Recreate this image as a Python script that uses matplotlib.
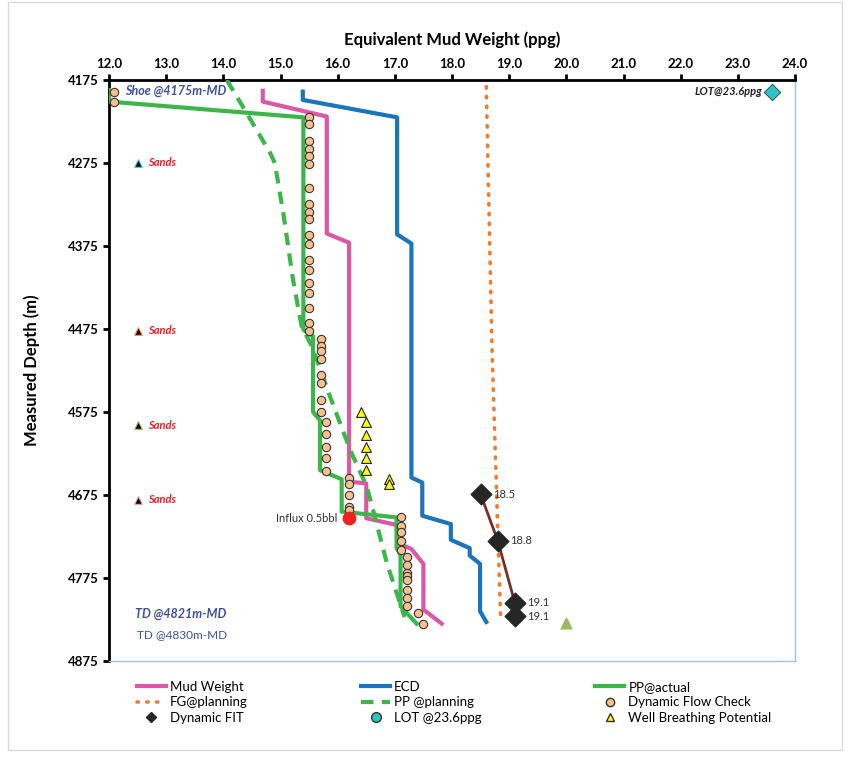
import matplotlib
matplotlib.use("Agg")
import matplotlib.pyplot as plt
from matplotlib.lines import Line2D
from matplotlib.patches import Rectangle

plt.rcParams["font.family"] = ["Lato", "DejaVu Sans"]

# ---- data (ppg vs measured depth, m) ----
mw_ppg = [14.69, 14.69, 15.81, 15.81, 16.20, 16.20, 16.50, 16.50, 17.03, 17.05, 17.29, 17.50, 17.50, 17.82]
mw_depth = [4188, 4201, 4219, 4360, 4371, 4659, 4661, 4703, 4711, 4733, 4740, 4758, 4813, 4830]

ecd_ppg = [15.39, 15.39, 17.04, 17.04, 17.29, 17.29, 17.48, 17.48, 17.98, 17.98, 18.31, 18.31, 18.49, 18.49, 18.60]
ecd_depth = [4189, 4199, 4220, 4361, 4372, 4654, 4660, 4700, 4710, 4729, 4739, 4748, 4758, 4815, 4828]

ppa_ppg = [12.0, 12.0, 15.40, 15.40, 15.57, 15.57, 15.69, 15.69, 16.07, 16.07, 17.03, 17.03, 17.10, 17.10, 17.38]
ppa_depth = [4187, 4201, 4220, 4476, 4484, 4575, 4585, 4645, 4656, 4695, 4702, 4739, 4747, 4809, 4830]

ppp_ppg = [14.06, 14.41, 14.82, 14.90, 15.05, 15.22, 15.37, 15.55, 15.72, 15.87, 16.22, 16.51, 16.68, 16.86, 17.17]
ppp_depth = [4175, 4215, 4263, 4275, 4336, 4416, 4472, 4496, 4528, 4557, 4621, 4665, 4709, 4757, 4822]

fg_ppg = [18.60, 18.70, 18.85]
fg_depth = [4183, 4500, 4822]

dfc_ppg = ([12.09] * 2 + [15.50] * 19 + [15.70] * 8 + [15.80] * 5 + [16.20] * 5
           + [17.11] * 5 + [17.21] * 8 + [17.40, 17.50])
dfc_depth = [4190, 4201,
             4219, 4228, 4248, 4258, 4267, 4276, 4305, 4324, 4334, 4343, 4362, 4372,
             4392, 4404, 4420, 4432, 4450, 4468, 4477,
             4487, 4496, 4502, 4511, 4530, 4540, 4560, 4575,
             4587, 4602, 4617, 4631, 4646,
             4655, 4662, 4675, 4689, 4693,
             4702, 4712, 4720, 4731, 4741,
             4750, 4759, 4769, 4773, 4777, 4789, 4799, 4809,
             4817, 4830]

wbp_ppg = [16.40, 16.50, 16.50, 16.50, 16.50, 16.50, 16.90, 16.90]
wbp_depth = [4575, 4587, 4603, 4617, 4631, 4645, 4656, 4662]

fit_ppg = [18.5, 18.8, 19.1, 19.1]
fit_depth = [4674, 4730, 4805, 4821]
fit_labels = ["18.5", "18.8", "19.1", "19.1"]

lot_ppg, lot_depth = 23.6, 4189
influx_ppg, influx_depth = 16.2, 4703
extra_ppg, extra_depth = 20.0, 4829

sand_depth = [4275, 4477, 4591, 4681]
sand_edge = ["#4BC8E0", "#F08A3C", "#9BBB59", "#E8A0A0"]

PINK, BLUE, GREEN = "#DC57A6", "#1B74BC", "#3DB54A"
ORANGE, PEACH, TXTBLUE = "#ED7D31", "#F8C08E", "#3F4FA3"

fig = plt.figure(figsize=(8.49, 7.61), dpi=100)
fig.patches.append(Rectangle((8 / 849, 11 / 761), 834 / 849, 748 / 761,
                             transform=fig.transFigure, fill=False,
                             edgecolor="#D9D9D9", lw=1))
ax = fig.add_axes([109 / 849, 1 - 661 / 761, 686 / 849, 581 / 761])

ax.plot(mw_ppg, mw_depth, color=PINK, lw=3, zorder=3)
ax.plot(ecd_ppg, ecd_depth, color=BLUE, lw=3, zorder=3)
ax.plot(ppa_ppg, ppa_depth, color=GREEN, lw=3, zorder=3)
ax.plot(ppp_ppg, ppp_depth, color=GREEN, lw=3, ls=(0, (3, 2)), zorder=3)
ax.plot(fg_ppg, fg_depth, color=ORANGE, lw=2.6, ls=(0, (0.4, 2.3)),
        dash_capstyle="round", zorder=3)

ax.scatter(dfc_ppg, dfc_depth, s=36, color=PEACH, edgecolor="#333333", lw=0.8, zorder=5)
ax.scatter(wbp_ppg, wbp_depth, s=50, marker="^", color="#FFFF00",
           edgecolor="#222222", lw=0.8, zorder=5)
ax.plot(fit_ppg[:3], fit_depth[:3], color="#7B2D26", lw=2, zorder=4)
ax.scatter(fit_ppg, fit_depth, s=110, marker="D", color="#262626", zorder=5)
for x, y, t in zip(fit_ppg, fit_depth, fit_labels):
    ax.text(x + 0.22, y, t, fontsize=8, color="#333333", va="center")

ax.scatter([lot_ppg], [lot_depth], s=70, marker="D", color="#2EC4C4",
           edgecolor="#333333", lw=0.6, zorder=5)
ax.text(23.42, lot_depth, "LOT@23.6ppg", fontsize=8, fontweight="bold",
        style="italic", ha="right", va="center", color="#222222")
ax.scatter([influx_ppg], [influx_depth], s=80, color="#EE2222", zorder=6)
ax.text(16.0, influx_depth, "Influx 0.5bbl", fontsize=8, ha="right",
        va="center", color="#333333")
ax.scatter([extra_ppg], [extra_depth], s=60, marker="^", color="#9BBB59", zorder=5)

for d, ec in zip(sand_depth, sand_edge):
    ax.scatter([12.5], [d], s=30, marker="^", color="black", edgecolor=ec,
               lw=0.8, zorder=5)
    ax.text(12.68, d, "Sands", fontsize=8, fontweight="bold", style="italic",
            color="#EE1C25", va="center")

ax.text(12.28, 4188, "Shoe @4175m-MD", fontsize=9, fontweight="bold",
        style="italic", color=TXTBLUE, va="center")
ax.text(12.45, 4818, "TD @4821m-MD", fontsize=9, fontweight="bold",
        style="italic", color=TXTBLUE, va="center")
ax.text(12.49, 4843, "TD @4830m-MD", fontsize=8.5, color=TXTBLUE, va="center")

ax.set_xlim(12, 24)
ax.set_ylim(4875, 4175)
ax.set_xticks([12 + i for i in range(13)])
ax.set_xticklabels([f"{12 + i:.1f}" for i in range(13)])
ax.set_yticks([4175 + 100 * i for i in range(8)])
ax.xaxis.tick_top()
ax.xaxis.set_label_position("top")
ax.tick_params(axis="both", direction="out", length=4, width=2, labelsize=9.5)
for lbl in ax.get_xticklabels() + ax.get_yticklabels():
    lbl.set_fontweight("bold")
ax.set_xlabel("Equivalent Mud Weight (ppg)", fontsize=12, fontweight="bold", labelpad=9)
ax.set_ylabel("Measured Depth (m)", fontsize=12, fontweight="bold", labelpad=20)
for side in ("left", "top"):
    ax.spines[side].set_linewidth(2)
    ax.spines[side].set_color("black")
for side in ("right", "bottom"):
    ax.spines[side].set_linewidth(1)
    ax.spines[side].set_color("#9DC3E6")

h = [
    Line2D([], [], color=PINK, lw=3, label="Mud Weight"),
    Line2D([], [], color=ORANGE, lw=2.6, ls=(0, (0.4, 2.3)), dash_capstyle="round",
           label="FG@planning"),
    Line2D([], [], ls="none", marker="D", ms=5, color="#262626", label="Dynamic FIT"),
    Line2D([], [], color=BLUE, lw=3, label="ECD"),
    Line2D([], [], color=GREEN, lw=3, ls=(0, (3, 2)), label="PP @planning"),
    Line2D([], [], ls="none", marker="o", ms=7, color="#2EC4C4", mec="#333333",
           label="LOT @23.6ppg"),
    Line2D([], [], color=GREEN, lw=3, label="PP@actual"),
    Line2D([], [], ls="none", marker="o", ms=6, color=PEACH, mec="#333333",
           label="Dynamic Flow Check"),
    Line2D([], [], ls="none", marker="^", ms=6, color="#FFFF00", mec="#333333",
           label="Well Breathing Potential"),
]
fig.legend(handles=h, ncol=3, loc="center", bbox_to_anchor=(0.535, 0.077),
           frameon=False, fontsize=9.5, handlelength=2.2, handletextpad=0.3,
           columnspacing=8.6, labelspacing=0.25)

fig.savefig("out.png", dpi=100)
